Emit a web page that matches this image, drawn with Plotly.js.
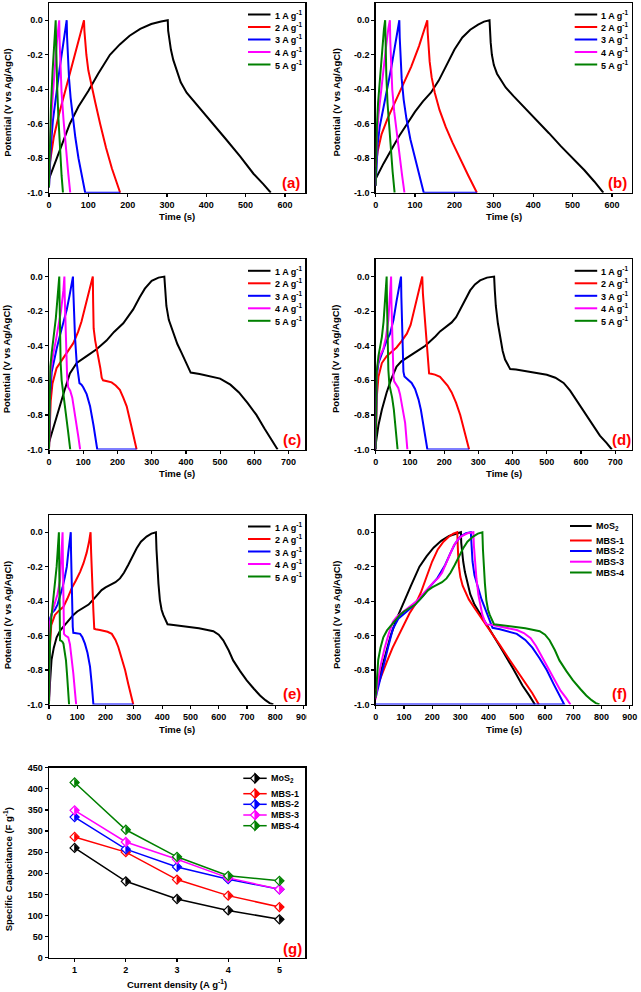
<!DOCTYPE html>
<html><head><meta charset="utf-8">
<script src="https://cdn.plot.ly/plotly-3.0.1.min.js"></script>
<style>html,body{margin:0;padding:0;background:#fff;}#chart{width:641px;height:992px;}</style>
</head><body><div id="chart"></div>
<script>
// ---------------- DATA ----------------
// Panel (a)  time (s) / potential (V)
const a1_t = [0, 10, 20, 35, 53, 75, 100, 125, 155, 180, 205, 232, 260, 285, 302, 303, 306, 310, 316, 324, 335, 350, 380, 418, 450, 486, 520, 545, 564];
const a1_v = [-0.92, -0.86, -0.80, -0.71, -0.60, -0.50, -0.41, -0.31, -0.20, -0.14, -0.09, -0.05, -0.022, -0.007, 0, -0.06, -0.12, -0.17, -0.23, -0.29, -0.36, -0.42, -0.50, -0.60, -0.69, -0.79, -0.89, -0.95, -1.0];
const a2_t = [0, 5, 12, 25, 40, 55, 70, 82, 89, 90, 92, 95, 100, 108, 118, 130, 145, 160, 172, 181];
const a2_v = [-0.86, -0.78, -0.68, -0.55, -0.42, -0.29, -0.16, -0.06, 0, -0.06, -0.13, -0.2, -0.29, -0.38, -0.48, -0.6, -0.74, -0.86, -0.94, -1.0];
const a3_t = [0, 2, 5, 10, 18, 27, 36, 42, 45, 46, 48, 51, 55, 60, 67, 75, 84, 92, 181];
const a3_v = [-0.97, -0.85, -0.72, -0.58, -0.43, -0.28, -0.14, -0.05, 0, -0.1, -0.22, -0.34, -0.45, -0.56, -0.68, -0.8, -0.91, -1.0, -1.0];
const a4_t = [0, 1, 3, 7, 12, 18, 23, 26, 27, 29, 32, 37, 43, 49, 54];
const a4_v = [-0.97, -0.85, -0.7, -0.52, -0.35, -0.18, -0.06, 0, -0.12, -0.28, -0.42, -0.58, -0.75, -0.89, -1.0];
const a5_t = [0, 1, 2, 5, 9, 13, 16, 17, 18, 19, 21, 24, 28, 32, 35.5];
const a5_v = [-0.97, -0.82, -0.68, -0.5, -0.3, -0.13, -0.03, 0, -0.12, -0.25, -0.4, -0.57, -0.75, -0.9, -1.0];

// Panel (b)
const b1_t = [0, 20, 40, 60, 80, 100, 120, 140, 160, 180, 200, 220, 240, 260, 275, 289, 290, 292, 295, 300, 308, 318, 330, 350, 380, 410, 440, 470, 500, 530, 555, 578];
const b1_v = [-0.92, -0.83, -0.75, -0.67, -0.6, -0.53, -0.47, -0.42, -0.35, -0.26, -0.17, -0.1, -0.055, -0.025, -0.008, 0, -0.06, -0.13, -0.2, -0.26, -0.31, -0.35, -0.39, -0.44, -0.51, -0.58, -0.655, -0.73, -0.8, -0.87, -0.935, -1.0];
const b2_t = [0, 5, 15, 30, 50, 70, 90, 110, 125, 131, 132, 134, 137, 142, 150, 162, 178, 195, 215, 235, 257];
const b2_v = [-0.85, -0.76, -0.66, -0.57, -0.47, -0.37, -0.27, -0.15, -0.05, 0, -0.07, -0.15, -0.24, -0.33, -0.42, -0.52, -0.62, -0.71, -0.81, -0.9, -1.0];
const b3_t = [0, 2, 5, 10, 18, 28, 40, 50, 56, 60, 61, 63, 66, 71, 78, 88, 100, 112, 122, 257];
const b3_v = [-0.96, -0.82, -0.72, -0.62, -0.52, -0.41, -0.27, -0.14, -0.06, 0, -0.1, -0.22, -0.34, -0.46, -0.57, -0.69, -0.8, -0.9, -1.0, -1.0];
const b4_t = [0, 1, 3, 7, 13, 20, 27, 32, 36, 37, 39, 42, 47, 53, 60, 67, 73];
const b4_v = [-0.96, -0.8, -0.68, -0.55, -0.42, -0.28, -0.14, -0.05, 0, -0.12, -0.27, -0.4, -0.53, -0.65, -0.78, -0.9, -1.0];
const b5_t = [0, 1, 3, 6, 11, 16, 21, 24, 25, 27, 30, 34, 38, 43, 48];
const b5_v = [-0.96, -0.78, -0.62, -0.48, -0.32, -0.17, -0.05, 0, -0.15, -0.32, -0.48, -0.62, -0.74, -0.88, -1.0];

// Panel (c)
const c1_t = [0, 10, 20, 32, 45, 61, 81, 110, 139, 168, 190, 217, 246, 265, 280, 300, 320, 337, 339, 343, 350, 363, 375, 387, 400, 414, 440, 470, 500, 530, 555, 580, 606, 630, 650, 668];
const c1_v = [-0.96, -0.89, -0.82, -0.75, -0.66, -0.56, -0.5, -0.46, -0.42, -0.37, -0.32, -0.27, -0.19, -0.12, -0.07, -0.025, -0.006, 0, -0.08, -0.17, -0.25, -0.33, -0.39, -0.44, -0.5, -0.555, -0.563, -0.575, -0.59, -0.625, -0.67, -0.73, -0.8, -0.88, -0.94, -1.0];
const c2_t = [0, 2, 5, 10, 22, 42, 60, 71, 85, 95, 105, 115, 122, 128, 129, 130.5, 135, 140, 145, 150, 154, 158, 170, 183, 195, 207, 217, 227, 240, 256];
const c2_v = [-1.0, -0.85, -0.72, -0.62, -0.53, -0.47, -0.42, -0.385, -0.32, -0.26, -0.18, -0.1, -0.04, 0, -0.15, -0.3, -0.37, -0.42, -0.46, -0.53, -0.585, -0.6, -0.605, -0.612, -0.63, -0.655, -0.7, -0.75, -0.86, -1.0];
const c3_t = [0, 1, 3, 8, 13, 22, 32, 42, 52, 60, 66, 70, 71, 73, 76, 81, 86, 89, 95, 100, 110, 120, 130, 141, 256];
const c3_v = [-1.0, -0.85, -0.69, -0.55, -0.5, -0.42, -0.34, -0.27, -0.19, -0.11, -0.04, 0, -0.08, -0.2, -0.35, -0.5, -0.59, -0.616, -0.625, -0.64, -0.68, -0.75, -0.86, -1.0, -1.0];
const c4_t = [0, 1, 2, 5, 12, 20, 28, 35, 42, 45, 46, 48, 50, 53, 56, 62, 68, 74, 80, 86, 91];
const c4_v = [-1.0, -0.8, -0.68, -0.55, -0.45, -0.37, -0.29, -0.2, -0.08, 0, -0.12, -0.3, -0.45, -0.58, -0.64, -0.66, -0.7, -0.77, -0.85, -0.93, -1.0];
const c5_t = [0, 1, 2, 4, 8, 14, 20, 25, 28, 30, 31, 32, 34, 37, 41, 46, 51, 56, 62];
const c5_v = [-1.0, -0.78, -0.64, -0.52, -0.44, -0.35, -0.24, -0.12, -0.05, 0, -0.15, -0.32, -0.5, -0.6, -0.66, -0.72, -0.8, -0.9, -1.0];

// Panel (d)
const d1_t = [0, 8, 18, 32, 46, 61, 75, 91, 110, 130, 145, 159, 175, 188, 205, 222, 235, 247, 262, 276, 290, 305, 325, 346, 348, 351, 357, 364, 371, 378, 386, 393, 410, 440, 470, 500, 525, 549, 568, 588, 610, 636, 655, 675, 690];
const d1_v = [-0.97, -0.86, -0.77, -0.67, -0.59, -0.52, -0.49, -0.47, -0.45, -0.42, -0.4, -0.375, -0.345, -0.317, -0.29, -0.265, -0.235, -0.19, -0.13, -0.08, -0.045, -0.022, -0.006, 0, -0.08, -0.17, -0.27, -0.365, -0.43, -0.48, -0.515, -0.535, -0.537, -0.548, -0.558, -0.568, -0.585, -0.615, -0.66, -0.72, -0.79, -0.867, -0.92, -0.963, -1.0];
const d2_t = [0, 1, 3, 8, 18, 32, 50, 61, 75, 91, 102, 110, 118, 125, 131, 136, 138, 141, 144, 148, 151, 156, 162, 173, 188, 198, 210, 222, 235, 247, 260, 273];
const d2_v = [-1.0, -0.85, -0.7, -0.58, -0.5, -0.46, -0.43, -0.41, -0.375, -0.33, -0.28, -0.21, -0.14, -0.077, -0.03, 0, -0.1, -0.18, -0.25, -0.36, -0.46, -0.56, -0.562, -0.567, -0.58, -0.6, -0.63, -0.67, -0.73, -0.8, -0.9, -1.0];
const d3_t = [0, 1, 3, 8, 18, 30, 42, 52, 61, 68, 74, 75, 77, 79, 81, 84, 89, 97, 105, 115, 125, 132, 139, 145, 151, 273];
const d3_v = [-1.0, -0.75, -0.58, -0.5, -0.44, -0.38, -0.33, -0.25, -0.14, -0.06, 0, -0.12, -0.3, -0.45, -0.55, -0.578, -0.587, -0.597, -0.615, -0.65, -0.71, -0.77, -0.846, -0.93, -1.0, -1.0];
const d4_t = [0, 1, 2, 5, 12, 22, 30, 37, 42, 45, 46, 48, 50, 52, 54, 60, 66, 71, 76, 81, 86, 92.5];
const d4_v = [-1.0, -0.8, -0.65, -0.52, -0.46, -0.42, -0.35, -0.25, -0.12, 0, -0.15, -0.33, -0.48, -0.58, -0.606, -0.625, -0.644, -0.68, -0.73, -0.79, -0.846, -1.0];
const d5_t = [0, 1, 3, 8, 13, 18, 23, 27, 30, 32, 33, 34, 35.5, 37, 40, 44, 48, 53, 57, 60, 64];
const d5_v = [-1.0, -0.75, -0.55, -0.46, -0.4, -0.35, -0.26, -0.135, -0.05, 0, -0.15, -0.3, -0.45, -0.54, -0.625, -0.66, -0.7, -0.77, -0.846, -0.92, -1.0];

// Panel (e)
const e1_t = [0, 4, 9, 17, 27, 40, 50, 62, 75, 86, 100, 121, 140, 157, 172, 186, 200, 216, 235, 251, 265, 280, 295, 310, 325, 345, 362, 378, 380, 383, 387, 392, 398, 404, 412, 419, 440, 470, 498, 530, 560, 581, 600, 616, 635, 651, 675, 699, 725, 746, 765, 780, 793];
const e1_v = [-0.96, -0.86, -0.74, -0.67, -0.61, -0.57, -0.55, -0.53, -0.5, -0.48, -0.46, -0.44, -0.42, -0.39, -0.36, -0.336, -0.32, -0.307, -0.29, -0.268, -0.235, -0.19, -0.14, -0.093, -0.055, -0.025, -0.008, 0, -0.1, -0.2, -0.3, -0.394, -0.45, -0.48, -0.51, -0.534, -0.538, -0.544, -0.55, -0.558, -0.567, -0.575, -0.595, -0.627, -0.685, -0.744, -0.805, -0.86, -0.91, -0.948, -0.975, -0.992, -1.0];
const e2_t = [0, 1, 3, 8, 21, 35, 51, 65, 80, 95, 110, 122, 133, 141, 147, 149, 151, 154, 157, 160, 165, 180, 192, 207, 222, 235, 245, 257, 269, 280, 292, 298];
const e2_v = [-1.0, -0.85, -0.67, -0.54, -0.48, -0.455, -0.433, -0.385, -0.326, -0.28, -0.23, -0.18, -0.12, -0.06, 0, -0.12, -0.23, -0.355, -0.46, -0.56, -0.563, -0.567, -0.57, -0.578, -0.59, -0.625, -0.666, -0.73, -0.8, -0.88, -0.957, -1.0];
const e3_t = [0, 1, 2, 4, 10, 21, 30, 39, 48, 56, 63, 68, 73, 77, 78, 80, 82, 84, 86, 92, 100, 110, 118, 127, 136, 145, 151, 157, 298];
const e3_v = [-1.0, -0.8, -0.62, -0.5, -0.47, -0.45, -0.42, -0.375, -0.32, -0.26, -0.2, -0.12, -0.06, 0, -0.12, -0.3, -0.45, -0.55, -0.584, -0.585, -0.586, -0.59, -0.61, -0.647, -0.7, -0.78, -0.88, -1.0, -1.0];
const e4_t = [0, 1, 2, 4, 10, 20, 30, 39, 44, 48, 49, 50, 51.5, 53, 58, 63, 68, 74, 80, 86, 92, 96];
const e4_v = [-1.0, -0.75, -0.6, -0.52, -0.47, -0.42, -0.36, -0.28, -0.15, 0, -0.15, -0.33, -0.48, -0.59, -0.6, -0.605, -0.61, -0.65, -0.72, -0.82, -0.93, -1.0];
const e5_t = [0, 1, 2, 4, 8, 15, 21, 27, 31, 35, 36, 37, 38, 39, 43, 47, 51, 56, 60, 64, 68, 71];
const e5_v = [-1.0, -0.78, -0.66, -0.6, -0.5, -0.39, -0.3, -0.2, -0.1, 0, -0.15, -0.32, -0.5, -0.627, -0.63, -0.635, -0.647, -0.69, -0.744, -0.83, -0.93, -1.0];

// Panel (f) reuses the 1 A/g curves; MBS-2 trace returns along -1.0 V
const fTail_t = [0];
const fTail_v = [-1.0];

// Panel (g) specific capacitance (F/g) vs current density (A/g)
const g_x = [1, 2, 3, 4, 5];
const g_MoS2 = [260, 181, 139, 112, 91];
const g_MBS1 = [286, 250, 185, 147, 120];
const g_MBS2 = [333, 257, 215, 186, 162];
const g_MBS3 = [349, 274, 233, 189, 162];
const g_MBS4 = [415, 303, 239, 194, 182];

// Labels
const rateNames = ['1 A g<sup>-1</sup>', '2 A g<sup>-1</sup>', '3 A g<sup>-1</sup>', '4 A g<sup>-1</sup>', '5 A g<sup>-1</sup>'];
const materialNames = ['MoS<sub>2</sub>', 'MBS-1', 'MBS-2', 'MBS-3', 'MBS-4'];
const panelTags = ['(a)', '(b)', '(c)', '(d)', '(e)', '(f)', '(g)'];
const potTickVals = [-1.0, -0.8, -0.6, -0.4, -0.2, 0.0];
const potTickText = ['-1.0', '-0.8', '-0.6', '-0.4', '-0.2', '0.0'];
const capTickVals = [0, 50, 100, 150, 200, 250, 300, 350, 400, 450];
const timeTitle = 'Time (s)';
const potTitle = 'Potential (V vs Ag/AgCl)';
const capTitle = 'Specific Capacitance (F g<sup>-1</sup>)';
const cdTitle = 'Current density (A g<sup>-1</sup>)';

// ---------------- STYLE / LAYOUT ----------------
const COLORS = ['#000000', '#ff0000', '#0000ff', '#ff00ff', '#008000'];
const FONT = 'Liberation Sans, Arial, Helvetica, sans-serif';
const W = 641, H = 992;
const PX = p => p / W, PY = p => 1 - p / H;

// frames in pixels
const FR = [
  {l: 49, r: 305, t: 3, b: 192.7, xmax: 651},
  {l: 375.7, r: 631.7, t: 3, b: 192.7, xmax: 650},
  {l: 49, r: 305, t: 259.3, b: 449.5, xmax: 748},
  {l: 375.7, r: 631.7, t: 259.3, b: 449.5, xmax: 748},
  {l: 49, r: 305, t: 515, b: 704.5, xmax: 905},
  {l: 375.7, r: 631.7, t: 515, b: 704.5, xmax: 907},
  {l: 49, r: 305, t: 767.7, b: 957.7}
];
const sfx = k => (k === 1 ? '' : String(k));

const layout = {
  width: W, height: H,
  margin: {l: 0, r: 0, t: 0, b: 0},
  showlegend: false,
  paper_bgcolor: '#ffffff', plot_bgcolor: '#ffffff',
  font: {family: FONT, size: 9, color: '#000', weight: 'bold'},
  annotations: [], shapes: []
};

FR.forEach((f, i) => {
  const k = i + 1, s = sfx(k);
  const common = {
    showline: true, linecolor: '#000', linewidth: 1.5, mirror: true,
    ticks: 'outside', ticklen: 3, tickwidth: 1.2, tickcolor: '#000',
    showgrid: false, zeroline: false, layer: 'below traces', fixedrange: true,
    tickfont: {family: FONT, size: 9, color: '#000', weight: 'bold'}
  };
  const xa = Object.assign({}, common, {domain: [PX(f.l), PX(f.r)], anchor: 'y' + s});
  const ya = Object.assign({}, common, {domain: [PY(f.b), PY(f.t)], anchor: 'x' + s});
  if (k <= 6) {
    Object.assign(xa, {range: [0, f.xmax], tick0: 0, dtick: 100});
    Object.assign(ya, {range: [-1.0, 0.1], tickmode: 'array', tickvals: potTickVals, ticktext: potTickText});
  } else {
    Object.assign(xa, {range: [0.5, 5.5], tickmode: 'array', tickvals: g_x});
    Object.assign(ya, {range: [0, 450], tickmode: 'array', tickvals: capTickVals});
  }
  layout['xaxis' + s] = xa;
  layout['yaxis' + s] = ya;
});

// ---------------- TRACES ----------------
const traces = [];
const gcdPanels = [
  [[a1_t, a1_v], [a2_t, a2_v], [a3_t, a3_v], [a4_t, a4_v], [a5_t, a5_v]],
  [[b1_t, b1_v], [b2_t, b2_v], [b3_t, b3_v], [b4_t, b4_v], [b5_t, b5_v]],
  [[c1_t, c1_v], [c2_t, c2_v], [c3_t, c3_v], [c4_t, c4_v], [c5_t, c5_v]],
  [[d1_t, d1_v], [d2_t, d2_v], [d3_t, d3_v], [d4_t, d4_v], [d5_t, d5_v]],
  [[e1_t, e1_v], [e2_t, e2_v], [e3_t, e3_v], [e4_t, e4_v], [e5_t, e5_v]],
  [[a1_t, a1_v], [b1_t, b1_v], [c1_t.concat(fTail_t), c1_v.concat(fTail_v)], [d1_t, d1_v], [e1_t, e1_v]]
];
gcdPanels.forEach((series, i) => {
  const s = sfx(i + 1);
  series.forEach((xy, j) => {
    traces.push({
      type: 'scatter', mode: 'lines', x: xy[0], y: xy[1],
      xaxis: 'x' + s, yaxis: 'y' + s,
      name: i < 5 ? rateNames[j] : materialNames[j],
      line: {color: COLORS[j], width: 2},
      hoverinfo: 'skip', showlegend: false
    });
  });
});

// Panel (g): half-filled diamonds = open diamond + right-half triangle
const capSeries = [g_MoS2, g_MBS1, g_MBS2, g_MBS3, g_MBS4];
const DIA = 7;                     // diamond marker size
const R = DIA / 2 * 1.3;           // diamond half diagonal (px)
const TRI = 2 * R / 1.655;         // triangle size so its apex reaches R
capSeries.forEach((ys, j) => {
  traces.push({
    type: 'scatter', mode: 'lines+markers', x: g_x, y: ys, xaxis: 'x7', yaxis: 'y7',
    name: materialNames[j], line: {color: COLORS[j], width: 1.5},
    marker: {symbol: 'diamond', size: DIA, color: '#ffffff', line: {color: COLORS[j], width: 1.2}},
    cliponaxis: false, hoverinfo: 'skip', showlegend: false
  });
  traces.push({
    type: 'scatter', mode: 'markers', x: g_x, y: ys, xaxis: 'x7', yaxis: 'y7',
    name: materialNames[j],
    marker: {symbol: 'triangle-down', angle: -90, standoff: TRI / 4, size: TRI, color: COLORS[j], line: {color: COLORS[j], width: 0.8}},
    cliponaxis: false, hoverinfo: 'skip', showlegend: false
  });
});

// ---------------- TEXT / LEGENDS ----------------
function ann(text, x, y, opts) {
  layout.annotations.push(Object.assign({
    text: text, x: PX(x), y: PY(y), xref: 'paper', yref: 'paper',
    showarrow: false, xanchor: 'center', yanchor: 'middle',
    font: {family: FONT, size: 9, color: '#000', weight: 'bold'}
  }, opts || {}));
}
function hline(x0, x1, y, color) {
  layout.shapes.push({type: 'line', xref: 'paper', yref: 'paper', x0: PX(x0), x1: PX(x1), y0: PY(y), y1: PY(y), line: {color: color, width: 2}});
}

// axis titles
const yTitleX = [7.3, 336, 7.3, 336, 7.3, 336, 8.3];
const yTitleY = [102.5, 102.5, 359, 359, 615, 615, 869];
const xTitleY = [216.7, 216.7, 474, 474, 729, 729, 984];
FR.forEach((f, i) => {
  ann(i < 6 ? potTitle : capTitle, yTitleX[i], yTitleY[i], {textangle: -90, font: {family: FONT, size: 9.5, color: '#000', weight: 'bold'}});
  ann(i < 6 ? timeTitle : cdTitle, (f.l + f.r) / 2, xTitleY[i], {font: {family: FONT, size: 9.5, color: '#000', weight: 'bold'}});
});

// panel tags
const tagX = [290.8, 617, 291.7, 621.2, 292, 619, 292.2];
const tagY = [182.7, 182.7, 439.3, 439.3, 693.3, 693.3, 948.3];
panelTags.forEach((t, i) => ann(t, tagX[i], tagY[i], {font: {family: FONT, size: 15, color: '#ff0000', weight: 'bold'}}));

// legends (a)-(e)
const rowsRate = [11.5, 24, 36.5, 49, 61.5];
for (let i = 0; i < 5; i++) {
  const f = FR[i];
  rowsRate.forEach((dy, j) => {
    hline(f.l + 199, f.l + 221.5, f.t + dy, COLORS[j]);
    ann(rateNames[j], f.l + 223.5, f.t + dy, {xanchor: 'left'});
  });
}
// legend (f)
const rowsMat = [11, 25.5, 36, 46.7, 57.5];
rowsMat.forEach((dy, j) => {
  const f = FR[5];
  hline(f.l + 194.3, f.l + 216, f.t + dy, COLORS[j]);
  ann(materialNames[j], f.l + 218.3, f.t + dy, {xanchor: 'left'});
});
// legend (g)
const rowsG = [10.6, 26, 36.6, 47.3, 58];
rowsG.forEach((dy, j) => {
  const f = FR[6];
  const yy = f.t + dy, cx = f.l + 206;
  layout.shapes.push({type: 'line', xref: 'paper', yref: 'paper', x0: PX(f.l + 194.3), x1: PX(f.l + 217.7), y0: PY(yy), y1: PY(yy), line: {color: COLORS[j], width: 1.5}});
  layout.shapes.push({type: 'path', xref: 'paper', yref: 'paper', xsizemode: 'pixel', ysizemode: 'pixel', xanchor: PX(cx), yanchor: PY(yy),
    path: 'M-4.5,0L0,4.5L4.5,0L0,-4.5Z', fillcolor: '#ffffff', line: {color: COLORS[j], width: 1.2}});
  layout.shapes.push({type: 'path', xref: 'paper', yref: 'paper', xsizemode: 'pixel', ysizemode: 'pixel', xanchor: PX(cx), yanchor: PY(yy),
    path: 'M0,-4.5L4.5,0L0,4.5Z', fillcolor: COLORS[j], line: {color: COLORS[j], width: 1.2}});
  ann(materialNames[j], f.l + 220, yy, {xanchor: 'left'});
});

// the source image is cropped through the last tick label of panel (e)
layout.shapes.push({type: 'rect', xref: 'paper', yref: 'paper', x0: PX(306.5), x1: PX(319), y0: PY(722), y1: PY(707), fillcolor: '#ffffff', line: {width: 0}, layer: 'above'});

Plotly.newPlot('chart', traces, layout, {staticPlot: true, displayModeBar: false});
</script></body></html>
